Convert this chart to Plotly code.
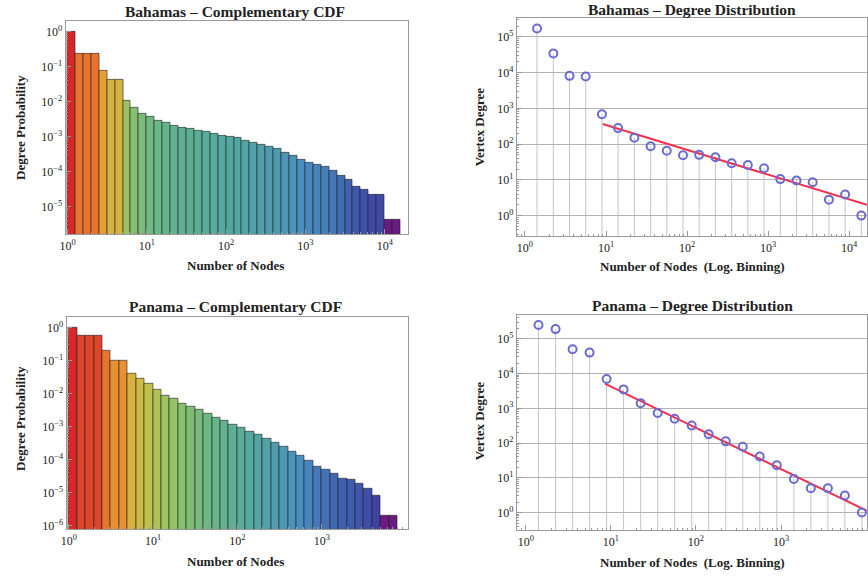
import numpy as np
import plotly.graph_objects as go

# ---------------- data ----------------
# Complementary CDF, log-binned (bins of 0.1 decade starting at 10^0)
bahamas_ccdf = [1.0, 0.234, 0.234, 0.234, 0.0776, 0.0427, 0.0427, 0.0105, 0.00646, 0.00457,
                0.00355, 0.00282, 0.0024, 0.00204, 0.00182, 0.00166, 0.00148, 0.00132, 0.00117, 0.00107,
                0.00098, 0.00089, 0.00076, 0.00066, 0.00058, 0.0005, 0.00043, 0.00034, 0.000275, 0.00022,
                0.000174, 0.000151, 0.000135, 0.000102, 7.4e-5, 5.6e-5, 3.6e-5, 2.9e-5, 2.1e-5, 2.1e-5,
                4.1e-6, 4.1e-6]
panama_ccdf = [1.0, 0.575, 0.575, 0.575, 0.2, 0.1, 0.1, 0.039, 0.0275, 0.0204,
               0.0135, 0.0085, 0.0068, 0.0051, 0.0041, 0.0033, 0.00245, 0.00186, 0.00148, 0.00117,
               0.00093, 0.00069, 0.00055, 0.00044, 0.000324, 0.000245, 0.00017, 0.000129, 9.5e-5, 6.3e-5,
               4.8e-5, 3.8e-5, 2.7e-5, 2.4e-5, 1.9e-5, 1.35e-5, 7.9e-6, 2.0e-6, 2.0e-6]
ccdf_bin_width = 0.1  # decades

# Degree distribution (log binning)
bahamas_nodes = [1.41, 2.24, 3.55, 5.62, 8.91, 14.1, 22.4, 35.5, 56.2, 89.1, 141, 224, 355, 562,
                 891, 1413, 2239, 3548, 5623, 8913, 14125]
bahamas_degree = [1.7e5, 3.4e4, 8.1e3, 7.8e3, 680, 280, 150, 87, 65, 49, 50, 43, 29, 26, 21,
                  10.5, 9.6, 8.6, 2.8, 3.9, 1.0]
panama_nodes = [1.41, 2.24, 3.55, 5.62, 8.91, 14.1, 22.4, 35.5, 56.2, 89.1, 141, 224, 355, 562,
                891, 1413, 2239, 3548, 5623, 8913]
panama_degree = [2.5e5, 1.9e5, 5.0e4, 4.0e4, 7.0e3, 3.5e3, 1.4e3, 730, 500, 320, 180, 112, 78, 41,
                 23, 9.3, 5.0, 5.0, 3.1, 1.0]

# power-law fit lines (end points)
bahamas_fit_x = [9.1, 16600]
bahamas_fit_y = [363, 2.0]
panama_fit_x = [8.5, 10230]
panama_fit_y = [5130, 1.12]

# ---------------- styling ----------------
W, H = 868, 577
FONT = "Liberation Serif"
FRAME = "#9a9a9a"
TXT = "#222222"

rainbow = [[0.0, '#6a1a80'], [0.08, '#3e3a9f'], [0.2, '#3f5fb0'], [0.32, '#4a8fc0'],
           [0.44, '#52a8a0'], [0.54, '#6cb884'], [0.63, '#98c462'], [0.71, '#c4c04a'],
           [0.77, '#e3ab38'], [0.84, '#e9882f'], [0.92, '#e6602c'], [1.0, '#d8262a']]


def px_x(a, b):
    return [a / W, b / W]


def px_y(top, bottom):
    return [1 - bottom / H, 1 - top / H]


def sup(e):
    return "10<sup>%s</sup>" % (str(e).replace('-', '\u2212'))


def minor_log_vals(lo, hi, as_exponent):
    vals = []
    for d in range(lo, hi + 1):
        for k in range(2, 10):
            v = k * 10.0 ** d
            vals.append(np.log10(v) if as_exponent else v)
    return vals


fig = go.Figure()


def ccdf_panel(values, xa, ya):
    logs = np.log10(values)
    centers = [ccdf_bin_width * (i + 0.5) for i in range(len(values))]
    fig.add_trace(go.Bar(
        x=centers, y=values, width=ccdf_bin_width, xaxis=xa, yaxis=ya,
        marker=dict(color=logs, colorscale=rainbow, cmin=float(logs.min()), cmax=0.0,
                    line=dict(color='rgba(35,35,35,0.6)', width=1)),
        showlegend=False, hoverinfo='x+y'))


def degree_panel(nodes, degree, fitx, fity, xa, ya, ybottom):
    sx, sy = [], []
    for xv, yv in zip(nodes, degree):
        sx += [xv, xv, None]
        sy += [yv, ybottom, None]
    fig.add_trace(go.Scatter(x=sx, y=sy, mode='lines', xaxis=xa, yaxis=ya,
                             line=dict(color='rgba(175,175,205,0.75)', width=1),
                             showlegend=False, hoverinfo='skip'))
    fig.add_trace(go.Scatter(x=fitx, y=fity, mode='lines', xaxis=xa, yaxis=ya,
                             line=dict(color='#f4304e', width=2), showlegend=False))
    fig.add_trace(go.Scatter(x=nodes, y=degree, mode='markers', xaxis=xa, yaxis=ya,
                             marker=dict(symbol='circle-open', size=8, color='#6b6bd0',
                                         line=dict(width=2, color='#6b6bd0')),
                             showlegend=False))


ccdf_panel(bahamas_ccdf, 'x', 'y')
ccdf_panel(panama_ccdf, 'x3', 'y3')
degree_panel(bahamas_nodes, bahamas_degree, bahamas_fit_x, bahamas_fit_y, 'x2', 'y2', 10 ** -0.58)
degree_panel(panama_nodes, panama_degree, panama_fit_x, panama_fit_y, 'x4', 'y4', 10 ** -0.51)

tickfont = dict(family=FONT, size=12, color=TXT)


def axis(domain, anchor, rng, typ, tickvals, ticktext, minorvals, grid=False):
    return dict(domain=domain, anchor=anchor, range=rng, type=typ,
                tickmode='array', tickvals=tickvals, ticktext=ticktext,
                ticks='inside', ticklen=5, tickcolor=FRAME, tickwidth=1,
                minor=dict(tickmode='array', tickvals=minorvals, ticks='inside', ticklen=2.5,
                           tickcolor=FRAME, showgrid=False),
                showline=True, linecolor=FRAME, linewidth=1, mirror=True,
                showgrid=grid, gridcolor='#b4b4b4', gridwidth=1,
                zeroline=False, tickfont=tickfont, fixedrange=True)


fig.update_layout(
    xaxis=axis(px_x(60, 405), 'y', [-0.025, 4.29], 'linear', [0, 1, 2, 3, 4],
               [sup(i) for i in range(5)], minor_log_vals(0, 4, True)),
    yaxis=axis(px_y(21, 236), 'x', [-5.80, 0.31], 'log', [10.0 ** -i for i in range(6)],
               [sup(-i) for i in range(6)], minor_log_vals(-6, 0, False)),
    xaxis2=axis(px_x(515, 868), 'y2', [-0.10, 4.22], 'log', [10.0 ** i for i in range(5)],
                [sup(i) for i in range(5)], minor_log_vals(-1, 4, False)),
    yaxis2=axis(px_y(18, 238), 'x2', [-0.58, 5.53], 'log', [10.0 ** i for i in range(6)],
                [sup(i) for i in range(6)], minor_log_vals(-1, 5, False), grid=True),
    xaxis3=axis(px_x(61, 405), 'y3', [-0.027, 4.02], 'linear', [0, 1, 2, 3],
                [sup(i) for i in range(4)], minor_log_vals(0, 3, True)),
    yaxis3=axis(px_y(319, 533), 'x3', [-6.11, 0.33], 'log', [10.0 ** -i for i in range(7)],
                [sup(-i) for i in range(7)], minor_log_vals(-7, 0, False)),
    xaxis4=axis(px_x(515, 868), 'y4', [-0.105, 4.01], 'log', [10.0 ** i for i in range(4)],
                [sup(i) for i in range(4)], minor_log_vals(-1, 4, False)),
    yaxis4=axis(px_y(317, 534), 'x4', [-0.51, 5.69], 'log', [10.0 ** i for i in range(6)],
                [sup(i) for i in range(6)], minor_log_vals(-1, 5, False), grid=True),
)


def ann(text, x, y, size, bold=False, angle=0):
    t = "<b>%s</b>" % text if bold else text
    return dict(text=t, x=x / W, y=1 - y / H, xref='paper', yref='paper', showarrow=False,
                xanchor='center', yanchor='middle', textangle=angle,
                font=dict(family=FONT, size=size, color=TXT))


annotations = [
    ann("Bahamas \u2013 Complementary CDF", 231, 12, 15.5, bold=True),
    ann("Number of Nodes", 231, 267, 13, bold=True),
    ann("Degree Probability", 14, 128, 13, bold=True, angle=-90),
    ann("Bahamas \u2013 Degree Distribution", 692, 10, 15.5, bold=True),
    ann("Number of Nodes\u00a0 (Log. Binning)", 692, 268, 13, bold=True),
    ann("Vertex Degree", 477, 128, 13, bold=True, angle=-90),
    ann("Panama \u2013 Complementary CDF", 231, 309, 15.5, bold=True),
    ann("Number of Nodes", 231, 565, 13, bold=True),
    ann("Degree Probability", 14, 421, 13, bold=True, angle=-90),
    ann("Panama \u2013 Degree Distribution", 692, 308, 15.5, bold=True),
    ann("Number of Nodes\u00a0 (Log. Binning)", 692, 566, 13, bold=True),
    ann("Vertex Degree", 477, 424, 13, bold=True, angle=-90),
]

fig.update_layout(
    width=W, height=H, margin=dict(l=0, r=0, t=0, b=0),
    paper_bgcolor='white', plot_bgcolor='white',
    bargap=0, showlegend=False, annotations=annotations,
    font=dict(family=FONT, color=TXT),
)

fig.write_html("out.html")
